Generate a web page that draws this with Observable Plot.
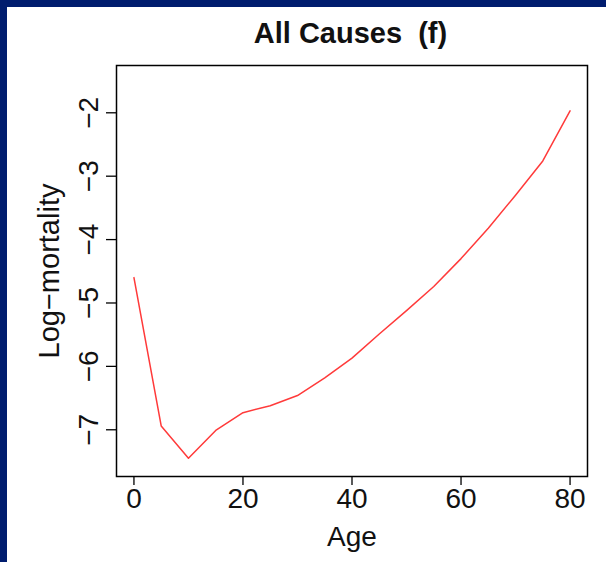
<!DOCTYPE html>
<html>
<head>
<meta charset="utf-8">
<script src="https://cdn.jsdelivr.net/npm/d3@7"></script>
<script src="https://cdn.jsdelivr.net/npm/@observablehq/plot@0.6"></script>
<style>
  html, body { margin: 0; padding: 0; background: #ffffff; }
  #page {
    width: 599px; height: 555px; background: #ffffff;
    border-left: 7px solid #001c6e; border-top: 7px solid #001c6e;
    overflow: hidden;
  }
  #page svg { display: block; }
</style>
</head>
<body>
<div id="page"></div>
<script>
// Data
const ages = [0, 5, 10, 15, 20, 25, 30, 35, 40, 45, 50, 55, 60, 65, 70, 75, 80];
const logMortality = [-4.60, -6.94, -7.45, -7.01, -6.73, -6.62, -6.46, -6.18, -5.87, -5.49, -5.12, -4.74, -4.30, -3.82, -3.30, -2.76, -1.97];
const xTicks = [0, 20, 40, 60, 80];
const yTicks = [-7, -6, -5, -4, -3, -2];
const titleText = "All Causes  (f)";
const xLabel = "Age";
const yLabel = "Log\u2212mortality";

const rows = ages.map((a, i) => ({age: a, value: logMortality[i]}));
const fmt = d => (d < 0 ? "\u2212" + Math.abs(d) : String(d));
const font = "'Liberation Sans', Arial, Helvetica, sans-serif";

const chart = Plot.plot({
  width: 599,
  height: 555,
  marginLeft: 109,
  marginRight: 19,
  marginTop: 58,
  marginBottom: 86,
  x: {domain: [-3.2, 83.2]},
  y: {domain: [-7.737, -1.254]},
  style: {fontFamily: font, background: "#ffffff", color: "#000000", overflow: "visible"},
  marks: [
    Plot.line(rows, {x: "age", y: "value", stroke: "#ff3a3a", strokeWidth: 1.5}),
    Plot.frame({stroke: "#000000", strokeWidth: 1.5}),
    Plot.axisX(xTicks, {tickSize: 9, tickPadding: 3, fontSize: 28, tickFormat: fmt, label: null, stroke: "#000000", strokeWidth: 1.3, fill: "#111"}),
    Plot.axisY(yTicks, {tickSize: 10, tickFormat: () => "", label: null, stroke: "#000000", strokeWidth: 1.3}),
    Plot.text(yTicks, {y: d => d, frameAnchor: "left", text: fmt, rotate: -90, textAnchor: "middle", lineAnchor: "bottom", dx: -19, fontSize: 28, fill: "#111"}),
    Plot.text([yLabel], {frameAnchor: "left", text: d => d, rotate: -90, textAnchor: "middle", lineAnchor: "bottom", dx: -58, fontSize: 29, fill: "#111"}),
    Plot.text([xLabel], {frameAnchor: "bottom", text: d => d, lineAnchor: "bottom", dy: 69, fontSize: 28, fill: "#111"}),
    Plot.text([titleText], {frameAnchor: "top", text: d => d, lineAnchor: "bottom", dy: -23, dx: -1.5, fontSize: 29, fontWeight: "bold", fill: "#111"})
  ]
});
document.getElementById("page").appendChild(chart);
// preserve the double space in the title
chart.querySelectorAll("text").forEach(t => t.setAttribute("xml:space", "preserve"));
chart.style.whiteSpace = "pre";
</script>
</body>
</html>
